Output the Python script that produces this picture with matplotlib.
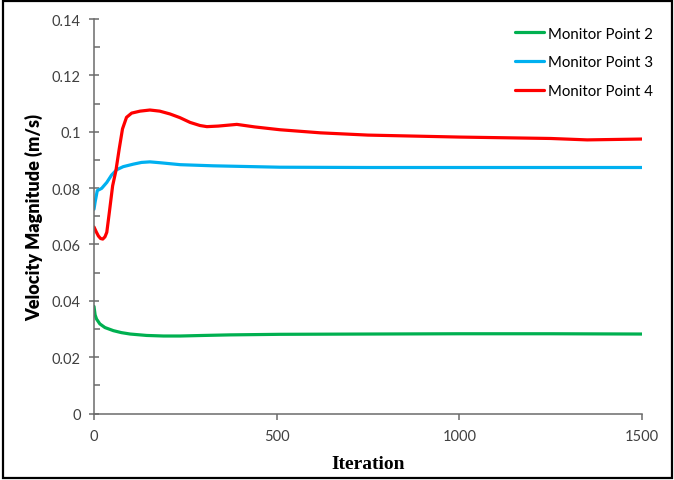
import matplotlib.pyplot as plt
from matplotlib.patches import Rectangle
from matplotlib.ticker import MultipleLocator

# monitor point velocity histories (iteration, m/s)
iter_p2 = [0, 3, 7, 16, 30, 53, 75, 99, 144, 190, 236, 300, 372, 509, 750, 1000, 1250, 1500]
vel_p2 = [0.0380, 0.0350, 0.0335, 0.0318, 0.0305, 0.0294, 0.0287, 0.0282, 0.0277, 0.0275, 0.0275,
          0.0277, 0.0279, 0.0281, 0.0282, 0.0283, 0.0283, 0.0282]

iter_p3 = [0, 3, 9, 21, 35, 48, 62, 80, 108, 130, 153, 180, 236, 326, 509, 750, 1000, 1250, 1500]
vel_p3 = [0.0725, 0.0750, 0.0791, 0.0799, 0.0820, 0.0846, 0.0865, 0.0876, 0.0885, 0.0891, 0.0893,
          0.0890, 0.0883, 0.0879, 0.0874, 0.0873, 0.0873, 0.0873, 0.0873]

iter_p4 = [0, 6, 12, 18, 24, 30, 35, 42, 51, 60, 69, 78, 89, 103, 126, 153, 180, 208, 235, 263,
           290, 309, 340, 391, 440, 509, 620, 750, 1000, 1250, 1350, 1500]
vel_p4 = [0.0662, 0.0645, 0.0630, 0.0621, 0.0619, 0.0627, 0.0643, 0.0714, 0.0808, 0.0862, 0.0939,
          0.1010, 0.1051, 0.1066, 0.1073, 0.1077, 0.1073, 0.1063, 0.1050, 0.1033, 0.1022, 0.1018,
          0.1020, 0.1026, 0.1017, 0.1007, 0.0996, 0.0988, 0.0981, 0.0976, 0.0971, 0.0974]

series = [
    ("Monitor Point 2", iter_p2, vel_p2, "#00B050"),
    ("Monitor Point 3", iter_p3, vel_p3, "#00B0F0"),
    ("Monitor Point 4", iter_p4, vel_p4, "#FF0000"),
]

y_ticks = [0, 0.02, 0.04, 0.06, 0.08, 0.1, 0.12, 0.14]
y_tick_labels = ["0", "0.02", "0.04", "0.06", "0.08", "0.1", "0.12", "0.14"]
x_ticks = [0, 500, 1000, 1500]

axis_grey = "#6b6b6b"
text_grey = "#404040"

fig = plt.figure(figsize=(6.74, 4.81), dpi=100)
ax = fig.add_axes([94 / 674, 1 - 414.5 / 481, 548 / 674, 394.5 / 481])

for name, xs, ys, colour in series:
    ax.plot(xs, ys, color=colour, linewidth=2.3, label=name, solid_capstyle="round",
            solid_joinstyle="round")

ax.set_xlim(0, 1500)
ax.set_ylim(0, 0.14)
ax.set_xticks(x_ticks)
ax.set_yticks(y_ticks)
ax.set_yticklabels(y_tick_labels)
ax.yaxis.set_minor_locator(MultipleLocator(0.01))

for side in ("top", "right"):
    ax.spines[side].set_visible(False)
for side in ("left", "bottom"):
    ax.spines[side].set_color(axis_grey)
    ax.spines[side].set_linewidth(1.1)

ax.tick_params(axis="y", which="major", direction="inout", length=7, width=1.1, color=axis_grey,
               labelsize=10.5, labelcolor=text_grey, pad=6)
ax.tick_params(axis="y", which="minor", direction="in", length=4, width=1.1, color=axis_grey)
ax.tick_params(axis="x", which="major", direction="out", length=4, width=1.1, color=axis_grey,
               labelsize=10.5, labelcolor=text_grey, pad=7)
for lbl in ax.get_xticklabels() + ax.get_yticklabels():
    lbl.set_fontfamily("Lato")

ax.set_ylabel("Velocity Magnitude (m/s)", fontfamily="Lato", fontweight="heavy", fontsize=13,
              color="black", labelpad=6)
ax.set_xlabel("Iteration", fontfamily="Liberation Serif", fontweight="bold", fontsize=14,
              color="black", labelpad=9)

ax.legend(loc="upper right", bbox_to_anchor=(1.045, 1.015), frameon=False, handlelength=1.9,
          handletextpad=0.3, labelspacing=0.98, prop={"family": "Lato", "size": 10.8})

# outer frame around the whole figure
fig.patches.append(Rectangle((3 / 674, 2 / 481), 669 / 674, 477 / 481, transform=fig.transFigure,
                             fill=False, edgecolor="black", linewidth=1.6))

fig.savefig("out.png", dpi=100)
